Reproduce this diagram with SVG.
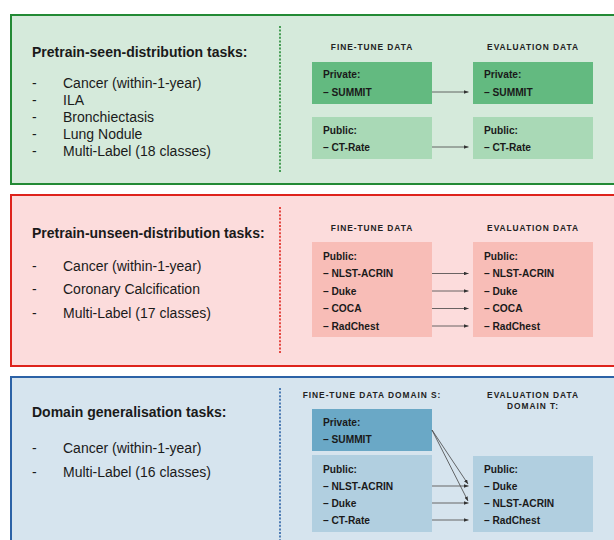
<svg xmlns="http://www.w3.org/2000/svg" width="614" height="540" viewBox="0 0 614 540">
<defs>
<marker id="ah" viewBox="0 0 10 8" refX="10" refY="4" markerWidth="4.5" markerHeight="3.6" markerUnits="userSpaceOnUse" orient="auto">
<path d="M0,0 L10,4 L0,8 z" fill="#333"/>
</marker>
<style>
.title{font-family:"Liberation Sans",Arial,sans-serif;font-size:14px;font-weight:bold;fill:#1a1a1a}
.item{font-family:"Liberation Sans",Arial,sans-serif;font-size:14px;fill:#1a1a1a}
.hdr{font-family:"Liberation Sans",Arial,sans-serif;font-size:8.4px;font-weight:bold;letter-spacing:0.95px;fill:#222;text-anchor:middle}
.bt{font-family:"Liberation Sans",Arial,sans-serif;font-size:10.2px;font-weight:bold;fill:#1a1a1a}
.conn{stroke:#444;stroke-width:0.8;fill:none;marker-end:url(#ah)}
.conn2{stroke:#666;stroke-width:1.1;fill:none;marker-end:url(#ah)}
.dot{stroke-width:1.6;stroke-dasharray:2 1.6;fill:none}
</style>
</defs>

<!-- Panel 1 -->
<g id="panel1">
<rect x="11" y="15" width="620" height="169" fill="#d5eadb" stroke="#238a35" stroke-width="2"/>
<line class="dot" x1="280" y1="26" x2="280" y2="173" stroke="#238a35"/>
<text class="title" x="32" y="57">Pretrain-seen-distribution tasks:</text>
<text class="item" x="32" y="88">-</text><text class="item" x="63" y="88">Cancer (within-1-year)</text>
<text class="item" x="32" y="105">-</text><text class="item" x="63" y="105">ILA</text>
<text class="item" x="32" y="122">-</text><text class="item" x="63" y="122">Bronchiectasis</text>
<text class="item" x="32" y="139">-</text><text class="item" x="63" y="139">Lung Nodule</text>
<text class="item" x="32" y="156">-</text><text class="item" x="63" y="156">Multi-Label (18 classes)</text>
<text class="hdr" x="372" y="49.5">FINE-TUNE DATA</text>
<text class="hdr" x="533" y="49.5">EVALUATION DATA</text>
</g>
<g id="p1-ft-private">
<rect x="312" y="62" width="120" height="42" fill="#63ba80"/>
<text class="bt" x="323" y="78">Private:</text>
<text class="bt" x="323" y="96">– SUMMIT</text>
</g>
<g id="p1-ft-public">
<rect x="312" y="117" width="120" height="42" fill="#a9d9b6"/>
<text class="bt" x="323" y="134">Public:</text>
<text class="bt" x="323" y="151">– CT-Rate</text>
</g>
<g id="p1-ev-private">
<rect x="473" y="62" width="120" height="42" fill="#63ba80"/>
<text class="bt" x="484" y="78">Private:</text>
<text class="bt" x="484" y="96">– SUMMIT</text>
</g>
<g id="p1-ev-public">
<rect x="473" y="117" width="120" height="42" fill="#a9d9b6"/>
<text class="bt" x="484" y="134">Public:</text>
<text class="bt" x="484" y="151">– CT-Rate</text>
</g>

<!-- Panel 2 -->
<g id="panel2">
<rect x="11" y="195" width="620" height="171" fill="#fcdcdc" stroke="#de231c" stroke-width="2"/>
<line class="dot" x1="280" y1="207" x2="280" y2="354" stroke="#de231c"/>
<text class="title" x="32" y="238">Pretrain-unseen-distribution tasks:</text>
<text class="item" x="32" y="271">-</text><text class="item" x="63" y="271">Cancer (within-1-year)</text>
<text class="item" x="32" y="294">-</text><text class="item" x="63" y="294">Coronary Calcification</text>
<text class="item" x="32" y="318">-</text><text class="item" x="63" y="318">Multi-Label (17 classes)</text>
<text class="hdr" x="372" y="231">FINE-TUNE DATA</text>
<text class="hdr" x="533" y="231">EVALUATION DATA</text>
</g>
<g id="p2-ft-public">
<rect x="312" y="242" width="120" height="95" fill="#f8bdb7"/>
<text class="bt" x="323" y="259.5">Public:</text>
<text class="bt" x="323" y="277">– NLST-ACRIN</text>
<text class="bt" x="323" y="294.5">– Duke</text>
<text class="bt" x="323" y="312">– COCA</text>
<text class="bt" x="323" y="329.5">– RadChest</text>
</g>
<g id="p2-ev-public">
<rect x="473" y="242" width="120" height="95" fill="#f8bdb7"/>
<text class="bt" x="484" y="259.5">Public:</text>
<text class="bt" x="484" y="277">– NLST-ACRIN</text>
<text class="bt" x="484" y="294.5">– Duke</text>
<text class="bt" x="484" y="312">– COCA</text>
<text class="bt" x="484" y="329.5">– RadChest</text>
</g>

<!-- Panel 3 -->
<g id="panel3">
<rect x="11" y="377" width="620" height="180" fill="#d6e4ee" stroke="#2c62a6" stroke-width="2"/>
<line class="dot" x1="280" y1="388" x2="280" y2="540" stroke="#2c62a6"/>
<text class="title" x="32" y="417">Domain generalisation tasks:</text>
<text class="item" x="32" y="453">-</text><text class="item" x="63" y="453">Cancer (within-1-year)</text>
<text class="item" x="32" y="477">-</text><text class="item" x="63" y="477">Multi-Label (16 classes)</text>
<text class="hdr" x="372" y="398">FINE-TUNE DATA DOMAIN S:</text>
<text class="hdr" x="533" y="398">EVALUATION DATA</text>
<text class="hdr" x="533" y="408.5">DOMAIN T:</text>
</g>
<g id="p3-ft-private">
<rect x="312" y="409" width="120" height="42" fill="#6aa8c6"/>
<text class="bt" x="323" y="425.5">Private:</text>
<text class="bt" x="323" y="442.5">– SUMMIT</text>
</g>
<g id="p3-ft-public">
<rect x="312" y="455" width="120" height="77" fill="#b1cfe0"/>
<text class="bt" x="323" y="472.5">Public:</text>
<text class="bt" x="323" y="489.5">– NLST-ACRIN</text>
<text class="bt" x="323" y="506.5">– Duke</text>
<text class="bt" x="323" y="523.5">– CT-Rate</text>
</g>
<g id="p3-ev-public">
<rect x="473" y="456" width="120" height="76" fill="#b1cfe0"/>
<text class="bt" x="484" y="472.5">Public:</text>
<text class="bt" x="484" y="489.5">– Duke</text>
<text class="bt" x="484" y="506.5">– NLST-ACRIN</text>
<text class="bt" x="484" y="523.5">– RadChest</text>
</g>

<g id="connectors">
<line class="conn" x1="432" y1="92" x2="468.5" y2="92"/>
<line class="conn" x1="432" y1="147" x2="468.5" y2="147"/>
<line class="conn" x1="432" y1="273.5" x2="468.5" y2="273.5"/>
<line class="conn" x1="432" y1="291" x2="468.5" y2="291"/>
<line class="conn" x1="432" y1="308.5" x2="468.5" y2="308.5"/>
<line class="conn" x1="432" y1="326" x2="468.5" y2="326"/>
<line class="conn2" x1="432" y1="486" x2="468.5" y2="486"/>
<line class="conn2" x1="432" y1="503" x2="468.5" y2="503"/>
<line class="conn2" x1="432" y1="520" x2="468.5" y2="520"/>
<line class="conn" x1="432" y1="430" x2="468" y2="484"/>
<line class="conn" x1="432" y1="430" x2="468" y2="501"/>
</g>
</svg>
